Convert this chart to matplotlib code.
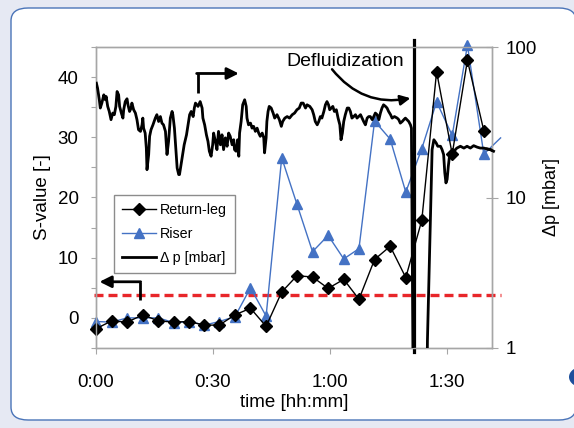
import matplotlib
matplotlib.use("Agg")
import matplotlib.pyplot as plt
from matplotlib.patches import FancyBboxPatch, Circle

plt.rcParams['font.family'] = ['Liberation Sans', 'DejaVu Sans']

# ---------------- data ----------------
sample_min = [0, 4, 8, 12, 16, 20, 23.8, 27.8, 31.6, 35.6, 39.6, 43.6, 47.6, 51.5,
              55.5, 59.5, 63.5, 67.4, 71.4, 75.4, 79.4, 83.5, 87.3, 91.3, 95.2, 99.4]
return_leg = [-1.8, -0.5, -0.7, 0.5, -0.5, -0.7, -0.6, -1.2, -1.2, 0.5, 1.6, -1.4, 4.3, 7.0,
              6.8, 4.9, 6.4, 3.1, 9.7, 11.9, 6.7, 16.2, 40.9, 27.2, 42.8, 31.1]
riser_min = sample_min + [103.7]
riser = [-0.6, -0.7, 0.0, 0.0, 0.0, -0.8, -0.6, -1.2, -0.6, 0.2, 5.0, 0.3, 26.6, 18.9,
         11.0, 13.7, 9.8, 11.5, 32.7, 29.7, 20.9, 28.1, 35.9, 30.3, 45.3, 27.2, 29.9]

dp_min = [0.1, 0.4, 0.85, 1.1, 1.5, 2.0, 2.4, 2.6, 3.0, 3.4, 3.85, 4.3, 4.7, 5.1, 5.4, 5.8,
          6.05, 6.5, 6.9, 7.1, 7.5, 7.95, 8.2, 8.6, 9.0, 9.2, 9.65, 10.1, 10.5, 10.9, 11.4,
          11.8, 12.0, 12.2, 12.6, 12.9, 13.07, 13.5, 13.74, 14.1, 14.6, 15.2, 15.6, 16.05,
          16.5, 16.9, 17.3, 17.8, 18.2, 18.6, 19.05, 19.5, 19.7, 20.1, 20.5, 20.8, 21.2,
          21.4, 21.8, 22.2, 22.6, 23.2, 23.6, 24.0, 24.4, 24.9, 25.2, 25.5, 26.15, 26.7,
          27.2, 27.4, 27.85, 28.3, 28.7, 29.05, 29.5, 29.9, 30.15, 30.6, 31.0, 31.4, 31.9,
          32.3, 32.7, 33.15, 33.6, 34.0, 34.4, 34.9, 35.3, 35.5, 35.9, 36.3, 36.6, 36.8,
          37.2, 37.6, 38.1, 38.5, 38.7, 39.1, 39.6, 40.0, 40.4, 40.85, 41.3, 41.7, 42.1,
          42.6, 43.0, 43.2, 43.6, 43.8, 44.1, 44.4, 44.9, 45.4, 45.8, 46.4, 47.0, 47.5,
          47.85, 48.4, 49.0, 49.6, 50.3, 50.9, 51.5, 52.1, 52.6, 53.1, 53.7, 54.1, 54.8,
          55.4, 55.8, 56.2, 56.7, 57.1, 57.5, 57.9, 58.4, 58.8, 59.2, 59.6, 59.9, 60.3,
          60.7, 61.1, 61.6, 62.05, 62.5, 62.8, 63.15, 63.5, 63.9, 64.4, 64.8, 65.2, 65.6,
          66.05, 66.5, 66.9, 67.3, 67.8, 68.2, 68.6, 69.05, 69.5, 69.9, 70.3, 70.8, 71.2,
          71.6, 72.05, 72.5, 72.9, 73.3, 73.7, 74.2, 74.6, 75.0, 75.5, 75.9, 76.5, 77.2,
          77.6, 78.0, 78.5, 78.9, 79.3, 79.7, 80.15, 80.6, 80.85, 81.3, 84.8, 84.95, 85.5,
          86.15, 86.6, 87.2, 87.6, 88.3, 88.7, 89.1, 89.4, 89.7, 90.0, 90.3, 90.6, 90.85,
          91.3, 91.7, 92.1, 92.5, 93.4, 94.3, 95.1, 95.95, 96.8, 97.7, 98.5, 99.4, 100.3,
          101.1, 101.9]
dp_mbar = [57.5, 53.3, 44.6, 39.3, 42.4, 48.1, 44.6, 46.9, 40.3, 37.3, 32.9, 36.4, 35.5,
           40.3, 50.6, 48.1, 40.3, 36.4, 33.7, 38.3, 43.4, 45.3, 41.3, 37.3, 39.3, 42.4,
           38.3, 36.4, 32.9, 28.2, 27.5, 30.4, 33.7, 28.9, 26.8, 21.3, 15.3, 19.3, 25.5,
           28.2, 30.4, 33.7, 35.5, 32.0, 34.5, 31.2, 30.4, 27.5, 19.3, 23.6, 33.7, 37.3,
           35.5, 28.9, 20.3, 15.7, 14.2, 14.2, 16.5, 19.3, 22.4, 26.1, 30.4, 35.5, 37.3,
           34.5, 39.3, 42.4, 40.3, 43.4, 39.3, 33.7, 30.4, 26.1, 23.6, 20.3, 18.8, 22.4,
           26.8, 23.6, 20.8, 27.5, 22.4, 26.1, 20.8, 24.9, 21.9, 26.8, 25.5, 22.4, 24.2,
           20.8, 20.3, 24.2, 18.8, 26.8, 32.0, 41.3, 44.6, 40.3, 33.7, 30.4, 31.2, 28.9,
           29.7, 27.5, 28.9, 26.8, 25.5, 26.8, 24.9, 19.8, 24.9, 32.0, 37.3, 40.3, 39.3,
           36.4, 33.7, 35.5, 32.9, 29.7, 32.0, 33.7, 34.5, 33.7, 35.5, 36.4, 38.3, 39.3,
           42.4, 42.4, 39.3, 41.3, 40.3, 38.3, 35.5, 32.0, 30.4, 32.0, 34.5, 33.7, 37.3,
           41.3, 43.4, 41.3, 38.3, 39.3, 40.3, 37.3, 38.3, 33.7, 30.4, 24.2, 26.8, 32.0,
           35.5, 39.3, 39.3, 37.3, 33.7, 34.5, 35.5, 33.7, 34.5, 35.5, 33.7, 32.0, 30.4,
           33.7, 34.5, 34.5, 32.9, 34.5, 36.4, 35.5, 32.9, 36.4, 39.3, 41.3, 40.3, 39.3,
           37.3, 35.5, 33.7, 34.5, 33.7, 32.9, 31.2, 32.0, 32.9, 33.7, 32.9, 32.0, 30.4,
           28.9, 0.5, 0.5, 1.12, 4.3, 20.8, 24.2, 23.0, 21.9, 21.9, 20.8, 19.3, 14.6, 12.5,
           13.2, 16.1, 18.8, 19.3, 20.3, 19.8, 20.8, 21.3, 21.9, 21.3, 21.9, 21.3, 22.1,
           21.6, 21.3, 21.3, 21.0, 20.8, 20.3]

threshold_s = 3.8
defluid_min = 81.4
x_tick_pos = [0, 30, 60, 90]
x_tick_labels = ["0:00", "0:30", "1:00", "1:30"]
s_ticks = [0, 10, 20, 30, 40]
dp_ticks = [1, 10, 100]
dp_tick_labels = ["1", "10", "100"]

# ---------------- figure ----------------
W, H = 574, 428
fig = plt.figure(figsize=(W / 100, H / 100), dpi=100)
fig.patch.set_facecolor('#e6e9f3')

def fx(px):
    return px / W

def fy(py):
    return 1 - py / H

box = FancyBboxPatch((fx(11), fy(420)), fx(576) - fx(11), fy(8) - fy(420),
                     boxstyle="round,pad=0,rounding_size=0.03",
                     transform=fig.transFigure, facecolor='white',
                     edgecolor='#4a74b8', linewidth=1.0, zorder=-10)
fig.patches.append(box)
circ = Circle((fx(583), fy(377)), 14 / W, transform=fig.transFigure,
              facecolor='#1d4f9c', edgecolor='none', zorder=-5)
fig.patches.append(circ)

ax = fig.add_axes([fx(96), fy(348), fx(492) - fx(96), fy(47) - fy(348)])
ax.set_facecolor('none')
ax2 = ax.twinx()

spine_c = '#a6a6a6'
for a in (ax, ax2):
    for s in a.spines.values():
        s.set_color(spine_c)
        s.set_linewidth(1.0)

ax.set_xlim(0, 101.5)
ax.set_ylim(-5, 45)
ax2.set_yscale('log')
ax2.set_ylim(1, 100)

ax.set_xticks(x_tick_pos)
ax.set_xticklabels(x_tick_labels)
ax.set_yticks(s_ticks)
ax.set_yticks([-5, 5, 15, 25, 35, 45], minor=True)
ax.tick_params(axis='y', which='both', direction='out', length=3.5, width=0.8,
               color=spine_c, labelsize=13.5, pad=9)
ax.tick_params(axis='x', direction='out', length=4, width=0.8, color=spine_c,
               labelsize=13.5, pad=15)
ax2.set_yticks(dp_ticks)
ax2.set_yticklabels(dp_tick_labels)
ax2.yaxis.set_minor_locator(matplotlib.ticker.NullLocator())
ax2.tick_params(axis='y', direction='inout', length=8, width=0.8, color=spine_c,
                labelsize=13.5, pad=6)

ax.set_xlabel("time [hh:mm]", fontsize=13.5, labelpad=2)
ax.set_ylabel("S-value [-]", fontsize=13.5, labelpad=5)
ax2.set_ylabel("Δp [mbar]", fontsize=13, labelpad=4)

# threshold
ax.plot([-0.5, 103.7], [threshold_s, threshold_s], color='#e8262a', lw=2.4,
        dashes=(2.7, 1.5), clip_on=False, zorder=2)

# series
h_ret, = ax.plot(sample_min, return_leg, color='black', lw=1.0, marker='D', ms=6.5,
                 mfc='black', mec='black', clip_on=False, zorder=4, label='Return-leg')
h_ris, = ax.plot(riser_min, riser, color='#4472c4', lw=1.0, marker='^', ms=7.5,
                 mfc='#4472c4', mec='#4472c4', clip_on=False, zorder=3,
                 markevery=list(range(len(riser_min) - 1)), label='Riser')

h_dp, = ax2.plot(dp_min, dp_mbar, color='black', lw=2.0, clip_on=True, zorder=3,
                 label='\u0394 p [mbar]')
# small overshoot of the trace past the right spine
ax2.plot(dp_min[-3:], dp_mbar[-3:], color='black', lw=2.0, clip_on=False, zorder=3)

# defluidization vertical line
ax.plot([defluid_min, defluid_min], [46.2, -5.6], color='black', lw=2.3,
        clip_on=False, zorder=5)
ax.text(63.8, 42.6, "Defluidization", fontsize=14, ha='center', va='center', zorder=6)
ax.annotate('', xy=(80.6, 36.5), xytext=(60.5, 41.3),
            arrowprops=dict(arrowstyle='-|>,head_length=0.6,head_width=0.3',
                            connectionstyle='arc3,rad=0.3', color='black', lw=1.8,
                            shrinkA=0, shrinkB=0), zorder=6)

# bent arrows
ax.plot([26.05, 26.05], [37.4, 40.6], color='black', lw=2.0, solid_capstyle='butt', zorder=6)
ax.annotate('', xy=(36.6, 40.6), xytext=(25.8, 40.6),
            arrowprops=dict(arrowstyle='-|>,head_length=0.7,head_width=0.35',
                            color='black', lw=2.0, shrinkA=0, shrinkB=0), zorder=6)
ax.plot([11.2, 11.2], [2.9, 6.0], color='black', lw=2.0, solid_capstyle='butt', zorder=6)
ax.annotate('', xy=(0.9, 6.0), xytext=(11.45, 6.0),
            arrowprops=dict(arrowstyle='-|>,head_length=0.7,head_width=0.35',
                            color='black', lw=2.0, shrinkA=0, shrinkB=0), zorder=6)

leg = ax2.legend([h_ret, h_ris, h_dp], ['Return-leg', 'Riser', '\u0394 p [mbar]'],
                 loc='upper left', bbox_to_anchor=(0.045, 0.508), borderaxespad=0,
                 fontsize=10.3, frameon=True, fancybox=False, edgecolor='#8c8c8c',
                 framealpha=1, handlelength=2.4, borderpad=0.55, labelspacing=0.7,
                 handletextpad=0.3)
leg.get_frame().set_linewidth(1.0)

fig.savefig("out.png", dpi=100, facecolor=fig.get_facecolor())
